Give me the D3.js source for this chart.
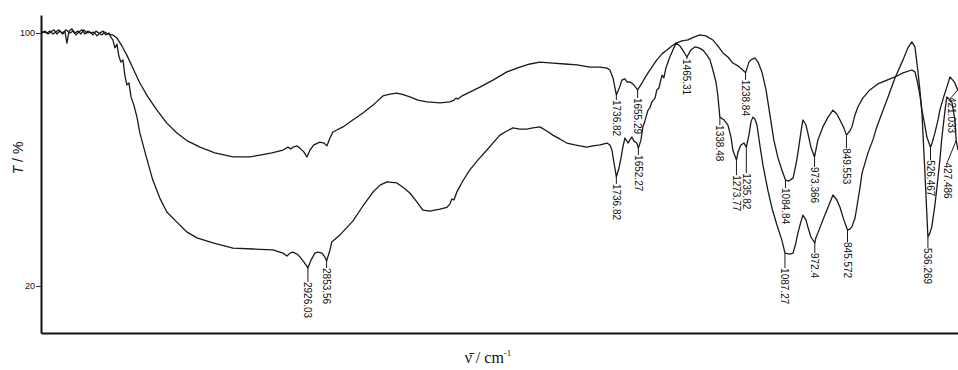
<!DOCTYPE html>
<html><head><meta charset="utf-8">
<script src="https://cdn.jsdelivr.net/npm/d3@7"></script>
<style>
html,body{margin:0;padding:0;background:#fff;}
svg{display:block;}
</style></head>
<body>
<svg id="chart" width="958" height="370"></svg>
<script>
// ---- data (wavenumber cm-1, transmittance %) ----
const wavenumberA = [3955,3944,3932,3921,3909,3898,3886,3874,3863,3855,3847,3836,3824,3813,3801,3790,3778,3766,3755,3743,3732,3720,3709,3697,3686,3678,
3662,3643,3624,3601,3574,3543,3508,3470,3431,3389,3342,3285,3215,3150,3111,3065,3022,3003,2992,2984,2968,2957,2942,2930,2918,2903,2880,2864,2853,2841,2830,
2791,2753,2714,2675,2637,2610,2583,2556,2533,2502,2467,2417,2379,2363,2355,2348,2332,2302,2263,2213,2159,2109,2070,2032,1982,1935,1889,1839,1800,1773,1762,1750,1743,1737,
1723,1716,1704,1696,1685,1673,1655,1646,1638,1627,1615,1600,1581,1561,1542,1523,1507,1484,1461,1438,1415,1392,1365,1346,1326,1307,1288,1268,1249,1239,
1226,1218,1203,1191,1176,1160,1145,1130,1114,1099,1085,1072,1056,1045,1037,1026,1018,1006,999,987,973,968,960,941,921,902,887,875,860,850,837,829,817,806,787,760,729,694,663,632,598,586,578,567,559,548,540,526,521,509,497,490,474,463,451,440,432,421];
const transA = [100.0,100.3,100.0,100.6,99.7,100.3,101.0,100.0,100.6,96.8,100.6,101.3,100.0,100.6,99.7,101.0,100.0,100.3,99.4,100.6,100.0,99.4,100.3,99.7,99.4,99.4,
98.4,95.9,93.0,88.9,84.2,79.8,75.6,71.5,68.4,65.8,63.9,62.1,60.8,60.8,61.4,62.1,63.0,63.9,63.3,63.9,64.3,63.6,62.4,60.8,63.0,64.6,65.5,65.2,64.3,66.8,68.7,
70.3,72.5,74.7,77.2,80.1,80.7,81.0,80.4,79.8,78.8,78.2,77.9,78.2,78.8,79.4,79.1,80.1,81.3,82.9,85.1,87.7,89.2,90.2,90.8,90.5,90.2,89.9,89.2,89.2,88.9,88.3,85.8,82.9,80.4,
83.2,85.1,85.5,84.5,84.5,83.9,82.0,83.2,84.2,85.8,87.4,89.2,91.5,93.4,94.6,95.9,96.8,97.5,97.8,98.7,99.4,99.1,97.8,95.9,93.7,92.4,90.5,89.6,88.3,87.4,
90.8,91.5,92.1,90.8,87.7,82.0,74.1,66.2,60.5,56.7,53.5,53.2,54.1,58.3,62.1,68.4,72.5,70.9,68.4,63.9,60.8,63.0,66.2,70.3,73.4,75.6,74.4,72.5,70.0,67.7,69.0,70.3,74.1,76.6,79.4,82.0,83.9,85.1,86.1,87.4,88.3,87.7,85.1,80.4,75.6,70.9,67.1,63.9,64.9,68.4,72.5,75.6,80.1,82.9,86.1,85.1,84.2,82.0];

const wavenumberB = [3955,3940,3928,3917,3905,3894,3882,3871,3859,3844,3832,3820,3809,3797,3786,3774,3763,3751,3739,3728,3716,3705,3693,3686,
3678,3670,3662,3655,3647,3639,3632,3624,3616,3608,3597,3585,3574,3551,3524,3497,3470,3431,3393,3354,3292,3215,3138,3061,3034,3022,3007,2995,2984,2968,2957,2942,2926,
2914,2899,2888,2872,2861,2854,2841,2834,2803,2753,2714,2675,2648,2621,2583,2556,2533,2506,2483,2456,2417,2390,2379,2371,2363,2352,2329,2302,2271,2236,2213,2186,2159,2136,
2109,2082,2059,2032,2005,1982,1955,1928,1897,1878,1851,1827,1800,1773,1762,1754,1746,1737,1727,1719,1712,1704,1696,1692,1685,1677,1669,1658,1652,1642,1635,1627,1615,1608,
1600,1588,1581,1573,1561,1554,1546,1531,1519,1507,1492,1477,1465,1450,1434,1419,1403,1388,1376,1365,1353,1346,1338,1322,1307,1295,1288,1274,1268,1257,1245,1236,1226,1218,
1211,1203,1195,1184,1172,1153,1137,1118,1099,1087,1068,1056,1045,1037,1026,1018,1006,999,987,972,968,960,941,921,902,887,875,860,846,837,829,817,810,798,790,767,748,733,713,
694,663,632,613,598,586,575,567,559,548,536,528,521,509,501,490,482,470,463,451,443,432,427,420];
const transB = [100.0,100.6,99.7,100.3,101.0,99.7,100.6,99.7,101.0,100.0,100.6,99.4,100.3,101.0,99.7,100.6,100.0,100.3,99.1,100.0,100.6,99.4,100.0,98.7,
97.8,95.3,96.5,92.7,90.8,91.5,86.7,83.6,84.2,79.8,77.2,73.4,68.4,61.4,53.5,47.8,43.4,40.2,37.1,35.2,33.6,32.0,31.7,31.4,30.7,30.4,29.5,30.4,30.7,30.1,29.2,27.6,25.7,
28.2,30.4,30.7,30.4,29.2,27.9,31.4,33.9,36.1,40.5,45.3,49.7,51.9,52.9,52.6,51.0,49.4,46.6,44.0,43.7,44.3,44.9,45.9,47.5,47.2,49.7,53.2,56.7,59.8,63.0,65.2,67.7,69.0,70.0,
69.6,69.6,70.0,70.3,69.0,67.7,66.5,65.2,64.6,64.3,63.9,64.3,64.6,65.2,64.6,63.0,58.9,54.5,57.3,60.5,63.9,66.8,65.8,65.2,66.2,67.1,65.8,65.2,63.6,66.2,70.3,72.2,75.6,76.3,
78.2,79.4,82.0,82.6,86.7,85.8,88.9,92.4,94.6,96.8,95.9,94.0,92.4,94.6,95.6,95.3,94.6,93.0,91.5,88.3,84.5,80.4,73.4,72.5,70.9,67.1,63.0,59.8,62.4,64.6,65.2,63.9,67.7,71.9,
73.4,72.8,70.9,64.6,58.3,50.3,44.6,39.3,34.5,30.4,30.1,30.4,33.6,36.8,40.2,42.4,40.9,38.7,35.5,33.6,35.2,36.8,40.9,44.9,48.8,47.2,44.9,40.9,37.7,38.0,38.7,41.5,44.9,51.0,55.7,62.1,66.2,70.3,74.7,
78.8,85.8,91.5,95.3,97.2,95.6,88.3,82.0,74.7,56.7,35.5,36.8,38.7,45.6,51.3,59.8,67.1,75.6,79.8,78.8,77.9,72.5,66.0,63.0];

// peak annotations
const peakCurve = ["B","B","B","B","B","B","B","B","B","B","B","B","B","A","A","A","A","A","A","A","A"];
const peakWn    = [2926,2854,1737,1652,1465,1338,1274,1236,1087,972,846,536,427,1737,1655,1239,1085,973,850,526,421];
const peakText  = ["2926.03","2853.56","1736.82","1652.27","1465.31","1338.48","1273.77","1235.82","1087.27","972.4","845.572","536.269","427.486",
                   "1736.82","1655.29","1238.84","1084.84","973.366","849.553","526.467","421.033"];
const yTicks = [20, 100];

// ---- layout (pixel offsets for the annotation text) ----
const labelGap = [14,7,7,7,2,8,15,26,15,10,12,11,22,5,8,7,8,10,13,13,7];
const labelDx  = [0,0,0,0,0,0,0,0,0,0,0,0,-9,0,0,0,0,0,0,0,-6];

const svg = d3.select("#chart");
const plotL = 41, plotR = 958, plotT = 15, plotB = 333;
const x = d3.scaleLinear().domain([3955, 420]).range([plotL, plotR]);
const y = d3.scaleLinear().domain([5.14, 105.69]).range([plotB, plotT]);

svg.append("defs").append("clipPath").attr("id","clip")
  .append("rect").attr("x",plotL).attr("y",0).attr("width",plotR-plotL).attr("height",plotB);

const line = d3.line().x(d => x(d[0])).y(d => y(d[1]));
const series = {
  A: wavenumberA.map((w,i) => [w, transA[i]]),
  B: wavenumberB.map((w,i) => [w, transB[i]])
};
const g = svg.append("g").attr("clip-path","url(#clip)");
["A","B"].forEach(k => {
  g.append("path").datum(series[k]).attr("d", line)
   .attr("fill","none").attr("stroke","#1a1a1a").attr("stroke-width",1.3).attr("stroke-linejoin","round");
});

// annotations
const ann = svg.append("g");
peakWn.forEach((w,i) => {
  const s = series[peakCurve[i]];
  const pt = s.find(d => d[0] === w);
  const px = x(w), py = y(pt[1]);
  const lx = px + labelDx[i], ly = py + labelGap[i];
  ann.append("line").attr("x1",px).attr("y1",py).attr("x2",lx).attr("y2",ly)
     .attr("stroke","#1a1a1a").attr("stroke-width",1);
  ann.append("text").attr("transform",`translate(${lx},${ly}) rotate(90)`)
     .attr("dy","0.35em").attr("text-anchor","start")
     .attr("font-family","Liberation Sans, Arial, sans-serif").attr("font-size",10)
     .attr("fill","#111").text(peakText[i]);
});

// axes
const yAxis = svg.append("g").attr("transform",`translate(${plotL},0)`)
  .call(d3.axisLeft(y).tickValues(yTicks).tickSize(5).tickSizeOuter(0).tickFormat(d3.format("d")));
yAxis.select(".domain").attr("stroke","#111").attr("stroke-width",2);
yAxis.selectAll(".tick line").attr("stroke","#333");
yAxis.selectAll(".tick text").attr("font-family","Liberation Sans, Arial, sans-serif").attr("font-size",9).attr("fill","#111").attr("dx",2);

const xAxis = svg.append("g").attr("transform",`translate(0,${plotB})`)
  .call(d3.axisBottom(x).tickValues([]).tickSizeOuter(0));
xAxis.select(".domain").attr("stroke","#111").attr("stroke-width",2);

// axis titles
const yt = svg.append("text").attr("transform","translate(23,158) rotate(-90)")
  .attr("text-anchor","middle").attr("font-family","Liberation Sans, Arial, sans-serif")
  .attr("font-size",14).attr("fill","#111");
yt.append("tspan").attr("font-style","italic").text("T");
yt.append("tspan").text(" / %");

const xt = svg.append("text").attr("x",488).attr("y",363)
  .attr("text-anchor","middle").attr("font-family","Liberation Serif, Times New Roman, serif")
  .attr("font-size",16).attr("fill","#111");
xt.append("tspan").text("\u03BD\u0304 / cm");
xt.append("tspan").attr("font-size",9).attr("dy",-7).text("-1");
</script>
</body></html>
